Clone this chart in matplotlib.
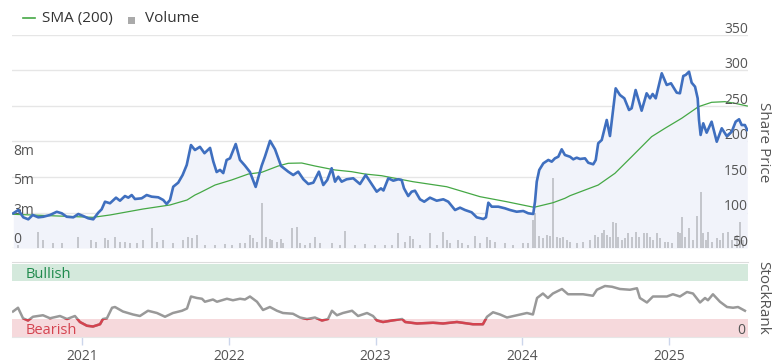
import matplotlib
matplotlib.use('Agg')
import matplotlib.pyplot as plt
from matplotlib.lines import Line2D
from matplotlib.patches import Rectangle
import matplotlib.transforms as mtransforms

plt.rcParams['font.family'] = ['Open Sans', 'DejaVu Sans']

# ---------------- data (decimal years) ----------------
price_t = [2020.530, 2020.564, 2020.598, 2020.632, 2020.662, 2020.700, 2020.734, 2020.780, 2020.826, 2020.860,
           2020.894, 2020.939, 2020.973, 2021.007, 2021.041, 2021.075, 2021.109, 2021.132, 2021.155, 2021.189,
           2021.230, 2021.257, 2021.291, 2021.314, 2021.337, 2021.359, 2021.405, 2021.439, 2021.473, 2021.518,
           2021.552, 2021.575, 2021.598, 2021.620, 2021.654, 2021.684, 2021.712, 2021.741, 2021.768, 2021.802,
           2021.833, 2021.871, 2021.893, 2021.916, 2021.939, 2021.961, 2021.984, 2022.007, 2022.046, 2022.075,
           2022.109, 2022.143, 2022.182, 2022.223, 2022.245, 2022.280, 2022.314, 2022.355, 2022.404, 2022.438,
           2022.472, 2022.507, 2022.541, 2022.575, 2022.613, 2022.643, 2022.670, 2022.700, 2022.723, 2022.745,
           2022.768, 2022.802, 2022.847, 2022.893, 2022.932, 2022.973, 2023.007, 2023.036, 2023.053, 2023.086,
           2023.120, 2023.154, 2023.177, 2023.193, 2023.222, 2023.245, 2023.268, 2023.302, 2023.331, 2023.370,
           2023.416, 2023.461, 2023.495, 2023.541, 2023.575, 2023.609, 2023.654, 2023.689, 2023.734, 2023.752,
           2023.768, 2023.791, 2023.836, 2023.881, 2023.916, 2023.961, 2024.006, 2024.040, 2024.074, 2024.086,
           2024.098, 2024.115, 2024.143, 2024.177, 2024.200, 2024.222, 2024.245, 2024.268, 2024.290, 2024.325,
           2024.347, 2024.370, 2024.393, 2024.427, 2024.449, 2024.483, 2024.500, 2024.517, 2024.541, 2024.575,
           2024.597, 2024.636, 2024.665, 2024.695, 2024.727, 2024.745, 2024.772, 2024.813, 2024.847, 2024.870,
           2024.888, 2024.909, 2024.950, 2024.984, 2025.013, 2025.052, 2025.074, 2025.097, 2025.113, 2025.136,
           2025.154, 2025.177, 2025.195, 2025.204, 2025.215, 2025.233, 2025.256, 2025.290, 2025.325, 2025.359,
           2025.393, 2025.427, 2025.454, 2025.477, 2025.495, 2025.517, 2025.533]
price = [98.9, 103.5, 93.2, 90.4, 96.5, 93.2, 94.0, 96.5, 101.0, 98.9,
         94.0, 93.2, 97.9, 95.0, 91.8, 90.4, 99.7, 104.5, 115.2, 113.0,
         120.9, 116.6, 123.2, 120.9, 124.6, 119.0, 120.0, 124.6, 122.3, 121.4,
         117.6, 112.0, 117.6, 136.3, 142.0, 152.8, 166.9, 195.0, 188.0, 192.5,
         183.5, 191.0, 172.0, 157.0, 160.0, 155.5, 174.0, 176.3, 196.5, 174.0,
         166.0, 157.0, 136.0, 166.0, 178.6, 201.0, 189.0, 165.5, 157.5, 152.8,
         157.5, 146.8, 140.1, 142.0, 157.5, 138.7, 145.8, 162.3, 143.4, 150.4,
         143.4, 146.8, 148.2, 140.1, 152.8, 140.1, 129.3, 134.0, 131.0, 148.2,
         144.8, 146.8, 145.8, 134.1, 123.2, 129.3, 130.7, 118.6, 115.2, 120.9,
         116.6, 118.6, 115.2, 103.5, 106.8, 103.5, 100.3, 93.2, 90.8, 93.2,
         113.8, 108.2, 108.2, 105.9, 103.5, 101.1, 102.1, 98.9, 97.9, 115.2,
         143.4, 159.9, 169.3, 174.0, 171.6, 176.3, 178.6, 189.0, 181.0, 178.5,
         174.9, 177.2, 175.4, 176.3, 170.1, 167.9, 173.9, 197.5, 202.1, 230.3,
         207.7, 274.9, 265.5, 260.8, 244.4, 246.8, 272.5, 243.4, 267.9, 260.8,
         266.9, 260.8, 296.1, 279.6, 282.0, 268.8, 267.9, 292.3, 293.7, 298.3,
         282.8, 277.2, 260.8, 230.3, 209.2, 225.6, 212.4, 227.9, 199.7, 218.6,
         207.7, 213.8, 227.9, 231.3, 223.2, 223.2, 216.2]

sma_t = [2020.528, 2021.073, 2021.189, 2021.414, 2021.598, 2021.714, 2021.768, 2021.802, 2021.905, 2022.018,
         2022.132, 2022.223, 2022.336, 2022.404, 2022.496, 2022.586, 2022.723, 2022.836, 2022.927, 2023.041,
         2023.254, 2023.484, 2023.711, 2023.893, 2024.079, 2024.209, 2024.290, 2024.325, 2024.517, 2024.631,
         2024.745, 2024.881, 2024.972, 2025.086, 2025.200, 2025.290, 2025.381, 2025.449, 2025.533]
sma = [97.5, 93.2, 96.5, 104.9, 110.6, 117.6, 124.6, 127.9, 138.7, 145.8,
       154.2, 156.6, 165.5, 169.3, 169.7, 165.5, 159.9, 157.5, 154.2, 151.8,
       143.4, 136.3, 122.3, 115.2, 107.3, 113.8, 120.0, 123.7, 138.7, 155.2,
       178.6, 206.8, 218.6, 232.7, 249.0, 255.2, 256.1, 253.8, 250.0]

vol_t = [2020.564, 2020.700, 2020.734, 2020.802, 2020.860, 2020.973, 2021.057, 2021.093, 2021.155, 2021.177,
         2021.223, 2021.257, 2021.291, 2021.325, 2021.371, 2021.416, 2021.473, 2021.507, 2021.552, 2021.620,
         2021.688, 2021.723, 2021.746, 2021.780, 2021.837, 2021.905, 2021.973, 2022.020, 2022.075, 2022.109,
         2022.143, 2022.166, 2022.189, 2022.223, 2022.250, 2022.280, 2022.295, 2022.325, 2022.355, 2022.370,
         2022.427, 2022.461, 2022.484, 2022.518, 2022.552, 2022.586, 2022.620, 2022.700, 2022.757, 2022.791,
         2022.859, 2022.927, 2022.995, 2023.063, 2023.110, 2023.154, 2023.200, 2023.234, 2023.256, 2023.302,
         2023.370, 2023.416, 2023.461, 2023.484, 2023.507, 2023.563, 2023.586, 2023.631, 2023.677, 2023.711,
         2023.757, 2023.779, 2023.813, 2023.881, 2023.938, 2024.006, 2024.040, 2024.074, 2024.086, 2024.115,
         2024.143, 2024.166, 2024.188, 2024.211, 2024.234, 2024.256, 2024.279, 2024.302, 2024.325, 2024.370,
         2024.415, 2024.461, 2024.495, 2024.517, 2024.541, 2024.558, 2024.575, 2024.597, 2024.620, 2024.636,
         2024.654, 2024.677, 2024.699, 2024.722, 2024.745, 2024.772, 2024.795, 2024.829, 2024.847, 2024.870,
         2024.892, 2024.916, 2024.938, 2024.972, 2024.995, 2025.018, 2025.063, 2025.074, 2025.090, 2025.108,
         2025.136, 2025.165, 2025.188, 2025.215, 2025.233, 2025.250, 2025.267, 2025.290, 2025.325, 2025.347,
         2025.370, 2025.404, 2025.427, 2025.461, 2025.484, 2025.506]
vol_m = [0.25, 1.38, 0.68, 0.39, 0.45, 0.96, 0.68, 0.53, 0.82, 0.68,
         0.96, 0.53, 0.53, 0.39, 0.39, 0.68, 1.67, 0.53, 0.68, 0.39,
         0.68, 0.96, 0.82, 1.10, 0.29, 0.23, 0.35, 0.29, 0.39, 0.39,
         1.10, 0.82, 0.53, 3.78, 0.96, 0.74, 0.68, 0.53, 0.74, 0.39,
         1.67, 1.76, 0.39, 0.25, 0.39, 0.90, 0.39, 0.39, 0.25, 1.43,
         0.25, 0.34, 0.25, 0.29, 0.23, 1.25, 0.53, 1.02, 0.74, 0.25,
         1.25, 0.25, 1.33, 0.68, 0.39, 0.68, 0.39, 0.25, 1.02, 0.39,
         0.90, 0.68, 0.53, 0.39, 0.25, 0.39, 0.39, 2.37, 2.94, 1.02,
         0.82, 1.10, 1.02, 5.90, 0.96, 0.82, 0.96, 0.68, 0.53, 0.45,
         0.53, 0.68, 1.10, 0.96, 1.25, 1.53, 1.10, 0.96, 2.23, 2.09,
         0.96, 0.68, 0.82, 1.25, 0.96, 1.38, 0.96, 1.30, 1.25, 0.96,
         0.68, 1.25, 0.82, 0.53, 0.53, 0.45, 1.38, 1.30, 2.65, 0.96,
         1.67, 0.68, 2.71, 4.72, 1.25, 0.68, 1.38, 0.53, 0.82, 0.68,
         1.25, 1.38, 0.68, 1.10, 2.18, 0.68]

rank_t = [2020.528, 2020.562, 2020.596, 2020.630, 2020.664, 2020.732, 2020.780, 2020.848, 2020.896, 2020.950,
          2020.984, 2021.032, 2021.073, 2021.121, 2021.141, 2021.168, 2021.203, 2021.223, 2021.277, 2021.346,
          2021.393, 2021.448, 2021.509, 2021.564, 2021.618, 2021.680, 2021.714, 2021.741, 2021.782, 2021.816,
          2021.836, 2021.891, 2021.918, 2021.986, 2022.027, 2022.075, 2022.109, 2022.143, 2022.191, 2022.232,
          2022.279, 2022.327, 2022.368, 2022.436, 2022.484, 2022.532, 2022.586, 2022.634, 2022.675, 2022.702,
          2022.736, 2022.777, 2022.839, 2022.880, 2022.941, 2022.982, 2023.009, 2023.050, 2023.112, 2023.180,
          2023.201, 2023.282, 2023.391, 2023.459, 2023.554, 2023.663, 2023.731, 2023.759, 2023.800, 2023.848,
          2023.895, 2023.963, 2024.031, 2024.072, 2024.100, 2024.140, 2024.174, 2024.208, 2024.270, 2024.311,
          2024.413, 2024.481, 2024.508, 2024.563, 2024.611, 2024.665, 2024.733, 2024.781, 2024.801, 2024.849,
          2024.890, 2024.985, 2025.026, 2025.074, 2025.122, 2025.163, 2025.211, 2025.245, 2025.265, 2025.299,
          2025.347, 2025.395, 2025.436, 2025.470, 2025.517]
rank = [34, 39, 25, 22, 27, 29, 25, 28, 24, 28,
        20, 15, 14, 17, 24, 25, 39, 40, 34, 30,
        28, 35, 32, 27, 32, 35, 38, 54, 52, 51,
        47, 50, 47, 51, 49, 51, 50, 54, 47, 36,
        40, 35, 32, 31, 26, 24, 26, 22, 24, 35,
        29, 32, 35, 28, 32, 28, 22, 20, 22, 24,
        20, 18, 19, 18, 20, 17, 17, 27, 33, 30,
        26, 29, 32, 30, 52, 58, 52, 58, 64, 57,
        57, 55, 63, 68, 67, 64, 63, 65, 52, 46,
        54, 54, 57, 54, 60, 58, 46, 52, 49, 57,
        47, 40, 39, 40, 35]

years = [2021, 2022, 2023, 2024, 2025]
price_ticks = [50, 100, 150, 200, 250, 300, 350]
vol_ticks = [0, 2.5, 5, 7.5]
vol_labels = ['0', '3m', '5m', '8m']

# ---------------- style ----------------
W, H = 775, 363
XMIN, XMAX = 2020.521, 2025.538
BLUE = '#3f6fbf'
GREEN = '#45a845'
GRID = '#e6e6e6'
LABEL = '#555555'

fig = plt.figure(figsize=(W / 100, H / 100), dpi=100)
rect = [12 / W, 1 - 248 / H, 736 / W, 213 / H]

# base axes: grid + fill
ax = fig.add_axes(rect)
ax.set_xlim(XMIN, XMAX)
ax.set_ylim(50, 350)
for v in price_ticks:
    ax.axhline(v, color=GRID, lw=1, zorder=0)
ax.fill_between(price_t, price, 50, color='#f1f3fa', lw=0, zorder=1)
ax.set_xticks([])
ax.set_yticks([])
for s in ax.spines.values():
    s.set_visible(False)

# volume axes
axv = fig.add_axes(rect, sharex=ax)
axv.patch.set_visible(False)
axv.set_ylim(0, 18.05)
axv.bar(vol_t, vol_m, width=0.0125, color='#c4c6cc', lw=0, align='center')
axv.set_yticks([])
axv.tick_params(bottom=False, labelbottom=False)
for s in axv.spines.values():
    s.set_visible(False)
tv = mtransforms.blended_transform_factory(axv.transAxes, axv.transData)
for v, lab in zip(vol_ticks, vol_labels):
    axv.annotate(lab, xy=(0, v), xycoords=tv, xytext=(1, 3.4), textcoords='offset points',
                 ha='left', va='baseline', fontsize=10, color=LABEL)

# lines axes
axl = fig.add_axes(rect, sharex=ax, sharey=ax)
axl.patch.set_visible(False)
axl.plot(sma_t, sma, color=GREEN, lw=0.9, zorder=3)
axl.plot(price_t, price, color=BLUE, lw=1.9, zorder=4, solid_joinstyle='round')
axl.set_yticks([])
axl.tick_params(bottom=False, labelbottom=False)
for s in axl.spines.values():
    s.set_visible(False)
tp = mtransforms.blended_transform_factory(axl.transAxes, axl.transData)
for v in price_ticks:
    axl.annotate(str(v), xy=(1, v), xycoords=tp, xytext=(0, 1.6), textcoords='offset points',
                 ha='right', va='baseline', fontsize=10, color=LABEL)

# StockRank panel
ax2 = fig.add_axes([12 / W, 1 - 337 / H, 736 / W, 75 / H])
ax2.set_xlim(XMIN, XMAX)
ax2.set_ylim(0, 100)
ax2.axhspan(75, 97.8, color='#d4e9dc', lw=0)
ax2.axhspan(0, 24, color='#f6d9dc', lw=0)
ax2.plot(rank_t, rank, color='#999999', lw=1.8, solid_joinstyle='round')
red, = ax2.plot(rank_t, rank, color='#d4434f', lw=1.8, solid_joinstyle='round')
clip = Rectangle((XMIN, 0), XMAX - XMIN, 24, transform=ax2.transData)
red.set_clip_path(clip)
ax2.text(0.019, 83, 'Bullish', transform=mtransforms.blended_transform_factory(ax2.transAxes, ax2.transData),
         ha='left', va='center', fontsize=10.5, color='#1f8a4c')
ax2.text(0.019, 8.5, 'Bearish', transform=mtransforms.blended_transform_factory(ax2.transAxes, ax2.transData),
         ha='left', va='center', fontsize=10.5, color='#d4434f')
ax2.text(0.996, 9, '0', transform=mtransforms.blended_transform_factory(ax2.transAxes, ax2.transData),
         ha='right', va='center', fontsize=10, color=LABEL)
ax2.set_yticks([])
ax2.set_xticks(years)
ax2.set_xticklabels([str(y) for y in years])
ax2.tick_params(axis='x', length=6, width=1, color='#ccd6eb', labelsize=10, labelcolor=LABEL, pad=3)
for k in ['left', 'right']:
    ax2.spines[k].set_visible(False)
ax2.spines['top'].set_color('#dddddd')
ax2.spines['bottom'].set_color('#e6e6e6')

# side titles
fig.text(763 / W, 1 - 141.7 / H, 'Share Price', rotation=270, ha='center', va='center',
         fontsize=11, color=LABEL)
fig.text(763 / W, 1 - 298 / H, 'StockRank', rotation=270, ha='center', va='center',
         fontsize=11, color=LABEL)

# legend
fig.add_artist(Line2D([22.7 / W, 35 / W], [1 - 17.5 / H, 1 - 17.5 / H], color=GREEN, lw=1.2))
fig.text(42 / W, 1 - 18.3 / H, 'SMA (200)', ha='left', va='center', fontsize=11, color='#333333')
fig.add_artist(Rectangle((128 / W, 1 - 24 / H), 7 / W, 6.5 / H, color='#aaaaaa', lw=0,
                         transform=fig.transFigure))
fig.text(145 / W, 1 - 18.3 / H, 'Volume', ha='left', va='center', fontsize=11, color='#333333')

fig.savefig('out.png', dpi=100)
